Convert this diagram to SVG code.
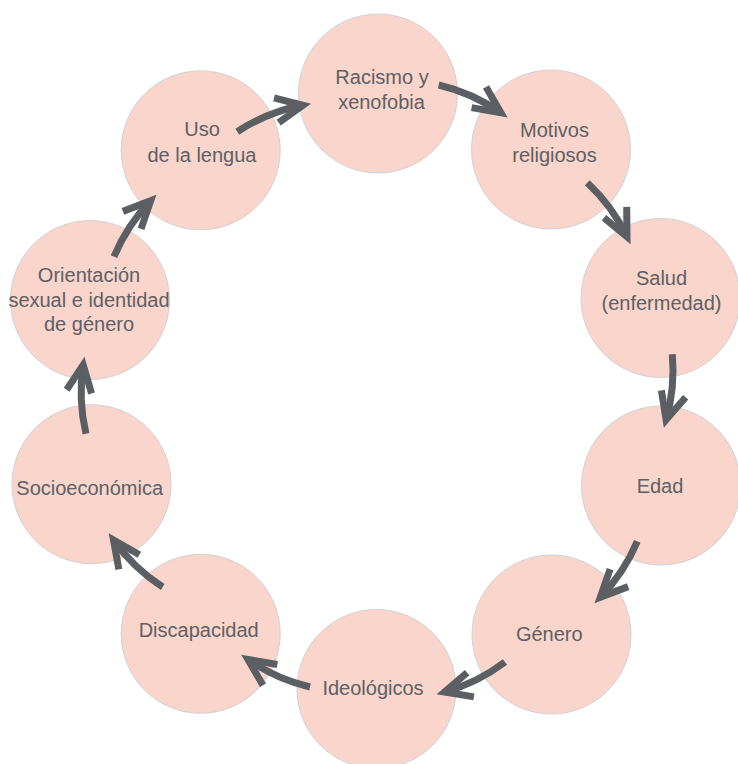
<svg xmlns="http://www.w3.org/2000/svg" width="738" height="764" viewBox="0 0 738 764">
  <style>
    .node circle { fill: #f9d5cb; stroke: #d2d2d4; stroke-width: 1; }
    .node text { font-family: "Liberation Sans", Arial, sans-serif; font-size: 20px; fill: #5e6065; text-anchor: middle; }
    .arrow { fill: none; stroke: #5b5e63; stroke-width: 7; stroke-linecap: butt; marker-end: url(#ah); }
  </style>
  <defs>
    <marker id="ah" markerUnits="userSpaceOnUse" markerWidth="60" markerHeight="60" viewBox="-40 -30 60 60" refX="0" refY="0" orient="auto" overflow="visible">
      <path d="M -27 -12.6 L 0 0 L -27 12.6" fill="none" stroke="#5b5e63" stroke-width="7" stroke-linejoin="miter" stroke-miterlimit="6" stroke-linecap="butt"/>
    </marker>
  </defs>
  <rect width="738" height="764" fill="#ffffff"/>

  <g id="n-racismo" class="node">
    <circle cx="378" cy="93.5" r="79.5"/>
    <text x="382" y="84">Racismo y</text>
    <text x="381.5" y="109.3">xenofobia</text>
  </g>
  <g id="n-motivos" class="node">
    <circle cx="551" cy="149.5" r="79.5"/>
    <text x="554.5" y="136.7">Motivos</text>
    <text x="554.5" y="161.7">religiosos</text>
  </g>
  <g id="n-salud" class="node">
    <circle cx="660.5" cy="298" r="79.5"/>
    <text x="661.5" y="285">Salud</text>
    <text x="661.5" y="310">(enfermedad)</text>
  </g>
  <g id="n-edad" class="node">
    <circle cx="661" cy="485.5" r="79.5"/>
    <text x="660" y="493">Edad</text>
  </g>
  <g id="n-genero" class="node">
    <circle cx="551.5" cy="634.5" r="79.5"/>
    <text x="549.3" y="641.3">Género</text>
  </g>
  <g id="n-ideologicos" class="node">
    <circle cx="376.5" cy="689" r="79.5"/>
    <text x="373" y="695.3">Ideológicos</text>
  </g>
  <g id="n-discapacidad" class="node">
    <circle cx="200.7" cy="633.8" r="79.5"/>
    <text x="198.7" y="637">Discapacidad</text>
  </g>
  <g id="n-socioeconomica" class="node">
    <circle cx="91.5" cy="484.2" r="79.5"/>
    <text x="89.7" y="495">Socioeconómica</text>
  </g>
  <g id="n-orientacion" class="node">
    <circle cx="90" cy="300" r="79.5"/>
    <text x="89" y="281.7">Orientación</text>
    <text x="89" y="307.3">sexual e identidad</text>
    <text x="89" y="331">de género</text>
  </g>
  <g id="n-uso" class="node">
    <circle cx="200.7" cy="150.3" r="79.5"/>
    <text x="202" y="136">Uso</text>
    <text x="202" y="161.7">de la lengua</text>
  </g>

  <g id="connectors">
    <path class="arrow" d="M 237.3 131.7 A 180 180 0 0 1 302.9 105.3"/>
    <path class="arrow" d="M 438.7 85 A 180 180 0 0 1 500.9 112.8"/>
    <path class="arrow" d="M 587.3 182.7 A 180 180 0 0 1 627 236.7"/>
    <path class="arrow" d="M 672.3 354.3 A 180 180 0 0 1 666.1 419.8"/>
    <path class="arrow" d="M 637.3 541.3 A 180 180 0 0 1 600.3 597.2"/>
    <path class="arrow" d="M 505 662 A 180 180 0 0 1 444.5 692"/>
    <path class="arrow" d="M 310 687 A 180 180 0 0 1 248 659.4"/>
    <path class="arrow" d="M 162.7 587 A 180 180 0 0 1 113.5 540"/>
    <path class="arrow" d="M 86 433.7 A 180 180 0 0 1 83.2 364.9"/>
    <path class="arrow" d="M 114 256.7 A 180 180 0 0 1 150.7 200.7"/>
  </g>
</svg>
